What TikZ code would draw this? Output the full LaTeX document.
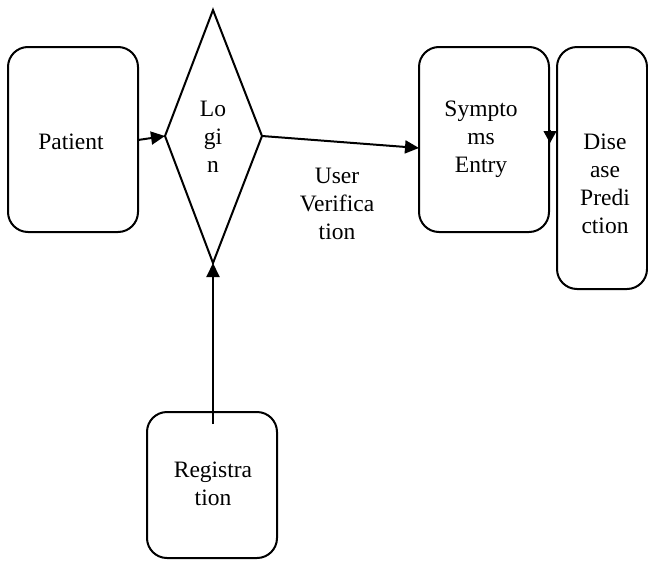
\documentclass[tikz,border=0pt]{standalone}
\usepackage{fontspec}
\setmainfont{Liberation Serif}
\usetikzlibrary{arrows.meta}
\begin{document}
\begin{tikzpicture}[x=1pt,y=-1pt,
  boxst/.style={draw,line width=2pt,rounded corners=20pt},
  lbl/.style={font=\fontsize{23.5}{28}\selectfont,align=center,inner sep=0pt},
  conn/.style={line width=2pt,-{Triangle[length=14pt,width=13pt]}}]
\useasboundingbox (0,0) rectangle (648,560);
% boxes
\draw[boxst] (8,47) rectangle (138,232);
\coordinate (patE) at (138,140);
\draw[boxst] (419,47) rectangle (549,232);
\coordinate (symW) at (419,148);
\draw[boxst] (557,47) rectangle (647,289);
\draw[boxst] (147,412) rectangle (277,558);
\coordinate (regN) at (213,424);
% diamond
\coordinate (lgT) at (213,10);
\coordinate (lgR) at (262,136);
\coordinate (lgB) at (213,263);
\coordinate (lgL) at (165,136);
\draw[line width=2pt,line join=miter] (lgT) -- (lgR) -- (lgB) -- (lgL) -- cycle;
% texts
\node[lbl] (tpat) at (71,142) {Patient};
\node[lbl] (tlog) at (213,137) {Lo\\gi\\n};
\node[lbl] (tsym) at (481,139.5) {Sympto\\ms\\Entry};
\node[lbl] (tdis) at (605,183.5) {Dise\\ase\\Predi\\ction};
\node[lbl] (treg) at (213,484) {Registra\\tion};
\node[lbl] (tuv) at (337,203.5) {User\\Verifica\\tion};
% connectors
\draw[conn] (patE) -- (lgL);
\draw[conn] (lgR) -- (symW);
\draw[conn] (regN) -- (lgB);
\coordinate (a1) at (550,130);
\coordinate (a2) at (550,143);
\draw[line width=1pt,-{Triangle[length=12pt,width=13pt]}] (a1) -- (a2);
\end{tikzpicture}
\end{document}
